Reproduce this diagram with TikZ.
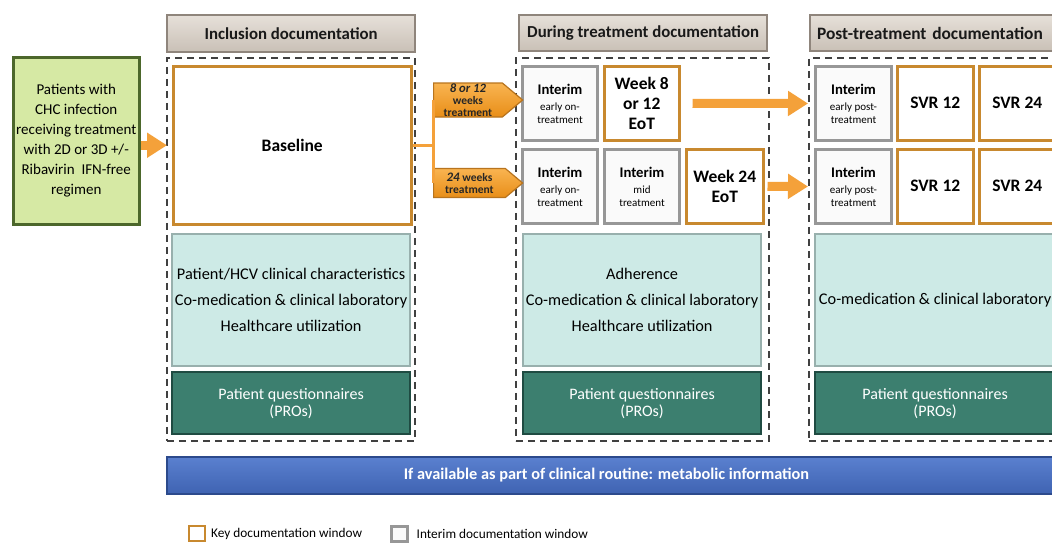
\documentclass[tikz,border=0pt]{standalone}
\usepackage{fontspec}
\setmainfont{Carlito}
\usetikzlibrary{arrows.meta,shapes.symbols}
\definecolor{hdrfill}{HTML}{DAD3CA}
\definecolor{hdrtop}{HTML}{E6E0D9}
\definecolor{hdrbot}{HTML}{C9C0B6}
\definecolor{hdrline}{HTML}{8F857C}
\definecolor{dashc}{HTML}{404040}
\definecolor{keyc}{HTML}{C8892F}
\definecolor{intc}{HTML}{979797}
\definecolor{intfill}{HTML}{FAFAFA}
\definecolor{cyanfill}{HTML}{CDEAE6}
\definecolor{cyanline}{HTML}{98B0AD}
\definecolor{profill}{HTML}{3C7F6F}
\definecolor{proline}{HTML}{1F4B42}
\definecolor{bluetop}{HTML}{5A80CF}
\definecolor{bluebot}{HTML}{3F63B2}
\definecolor{blueline}{HTML}{2C4A8C}
\definecolor{greenfill}{HTML}{D6E9A4}
\definecolor{greenline}{HTML}{4C672B}
\definecolor{arrc}{HTML}{F4A13A}
\definecolor{sigtop}{HTML}{F9B451}
\definecolor{sigbot}{HTML}{E88E18}
\definecolor{sigline}{HTML}{B8741E}
\begin{document}
\begin{tikzpicture}[x=1pt,y=-1pt,
  hdr/.style={draw=hdrline, top color=hdrtop, bottom color=hdrbot, line width=2.2pt, inner sep=0pt, anchor=north west,
    font=\fontsize{16.8}{20}\selectfont\bfseries, text=black!90},
  dbox/.style={draw=dashc, dash pattern=on 7pt off 5pt, line width=1.6pt, anchor=north west, inner sep=0pt},
  keyb/.style={draw=keyc, fill=white, line width=2.5pt, anchor=north west, inner sep=0pt, align=center,
    minimum width=75, minimum height=74, font=\fontsize{17.5}{20}\selectfont\bfseries},
  intb/.style={draw=intc, fill=intfill, line width=3pt, anchor=north west, inner sep=0pt, align=center,
    minimum width=75, minimum height=74, font=\fontsize{11}{13}\selectfont},
  cyanb/.style={draw=cyanline, fill=cyanfill, line width=2.2pt, anchor=north west, inner sep=0pt, align=center,
    minimum height=132, font=\fontsize{16.3}{26}\selectfont},
  prob/.style={draw=proline, fill=profill, line width=2.2pt, anchor=north west, inner sep=0pt, align=center,
    minimum height=62, text=white, font=\fontsize{16}{17}\selectfont},
  sig/.style={signal, signal to=east, signal pointer angle=80, draw=sigline, top color=sigtop, bottom color=sigbot, line width=1.2pt,
    inner sep=0pt, anchor=west, align=center, font=\fontsize{11.5}{12}\selectfont\bfseries, text=black!85},
  fat/.style={draw=arrc, line width=9pt, -{Triangle[length=20pt,width=24pt]}},
  conn/.style={draw=arrc, line width=3pt}
]
\clip (0,0) rectangle (1052,542);
\fill[white] (0,0) rectangle (1052,542);

% headers
\node[hdr, minimum width=248, minimum height=37] (h1) at (166,14) {Inclusion documentation};
\node[hdr, minimum width=248, minimum height=36] (h2) at (518,14) {During treatment documentation};
\node[hdr, minimum width=252, minimum height=36, text width=248, align=left, font=\fontsize{17.4}{20}\selectfont\bfseries] (h3) at (809,14) {\hspace{5pt}Post-treatment documentation};

% dashed frames
\node[dbox, minimum width=248, minimum height=383] (d1) at (166,57) {};
\node[dbox, minimum width=253, minimum height=383] (d2) at (515,57) {};
\node[dbox, minimum width=252, minimum height=383] (d3) at (808,57) {};

% green patients box
\node[draw=greenline, fill=greenfill, line width=2.5pt, anchor=north west, inner sep=0pt,
  minimum width=126, minimum height=167, align=center, font=\fontsize{15}{20}\selectfont] (green) at (12,56)
  {Patients with\\CHC infection\\receiving treatment\\with 2D or 3D +/-\\Ribavirin\ \ IFN-free\\regimen};

% baseline
\node[keyb, minimum width=238, minimum height=158] (base) at (172,65) {Baseline};

% during
\node[intb] (i1) at (521,65) {{\fontsize{14.7}{13}\selectfont\bfseries Interim}\\[3pt]early on-\\treatment};
\node[keyb] (w8) at (603,65) {Week 8\\or 12\\EoT};
\node[intb] (i2) at (521,148) {{\fontsize{14.7}{13}\selectfont\bfseries Interim}\\[3pt]early on-\\treatment};
\node[intb] (i3) at (603,148) {{\fontsize{14.7}{13}\selectfont\bfseries Interim}\\[3pt]mid\\treatment};
\node[keyb, minimum width=77] (w24) at (685,148) {Week 24\\EoT};

% post
\node[intb, minimum width=76] (p1) at (814,65) {{\fontsize{14.7}{13}\selectfont\bfseries Interim}\\[3pt]early post-\\treatment};
\node[keyb, minimum width=76] (s1) at (896,65) {SVR 12};
\node[keyb, minimum width=76] (t1) at (978,65) {SVR 24};
\node[intb, minimum width=76] (p2) at (814,148) {{\fontsize{14.7}{13}\selectfont\bfseries Interim}\\[3pt]early post-\\treatment};
\node[keyb, minimum width=76] (s2) at (896,148) {SVR 12};
\node[keyb, minimum width=76] (t2) at (978,148) {SVR 24};

% cyan boxes
\node[cyanb, minimum width=238] (c1) at (171,233) {Patient/HCV clinical characteristics\\Co-medication \& clinical laboratory\\Healthcare utilization};
\node[cyanb, minimum width=238] (c2) at (522,233) {Adherence\\Co-medication \& clinical laboratory\\Healthcare utilization};
\node[cyanb, minimum width=240] (c3) at (814,233) {Co-medication \& clinical laboratory};

% PRO boxes
\node[prob, minimum width=238] (q1) at (171,371) {Patient questionnaires\\(PROs)};
\node[prob, minimum width=238] (q2) at (522,371) {Patient questionnaires\\(PROs)};
\node[prob, minimum width=240] (q3) at (814,371) {Patient questionnaires\\(PROs)};

% blue bar
\node[draw=blueline, top color=bluetop, bottom color=bluebot, line width=2pt, anchor=north west, inner sep=0pt,
  minimum width=895, minimum height=37, text=white, font=\fontsize{16.3}{19}\selectfont\bfseries] (blue) at (166,456)
  {\hspace{-16pt}If available as part of clinical routine: metabolic information\hspace{290pt}};

% treatment-length signals
\node[sig, minimum width=89, minimum height=34] (g1) at (433,100) {\fontsize{12.7}{12}\selectfont\itshape 8 or 12\\weeks\\treatment};
\node[sig, minimum width=89, minimum height=29] (g2) at (433,183) {{\fontsize{13}{12}\selectfont\itshape 24} weeks\\treatment};

% connectors
\coordinate (jn) at (base.east -| g1.west);
\draw[conn] (base.east) -- (jn);
\draw[conn] (g1.west) -- (g2.west);
\draw[fat] (green.east |- base.west) -- ([xshift=-5pt]base.west);
\draw[fat] ([xshift=12pt]w8.east) -- ([xshift=-6pt]p1.west);
\draw[fat] ([xshift=3pt]w24.east) -- ([xshift=-6pt]p2.west);

% legend
\node[draw=keyc, fill=white, line width=2pt, anchor=north west, minimum width=16, minimum height=15, inner sep=0pt] (lk) at (188,525) {};
\node[anchor=west, inner sep=0pt, font=\fontsize{13.3}{15}\selectfont] (lkt) at ([xshift=5pt]lk.east) {Key documentation window};
\node[draw=intc, fill=intfill, line width=2.5pt, anchor=north west, minimum width=16, minimum height=15, inner sep=0pt] (li) at (390,525) {};
\node[anchor=west, inner sep=0pt, font=\fontsize{13.3}{15}\selectfont] (lit) at ([xshift=8pt]li.east) {Interim documentation window};
\end{tikzpicture}
\end{document}
